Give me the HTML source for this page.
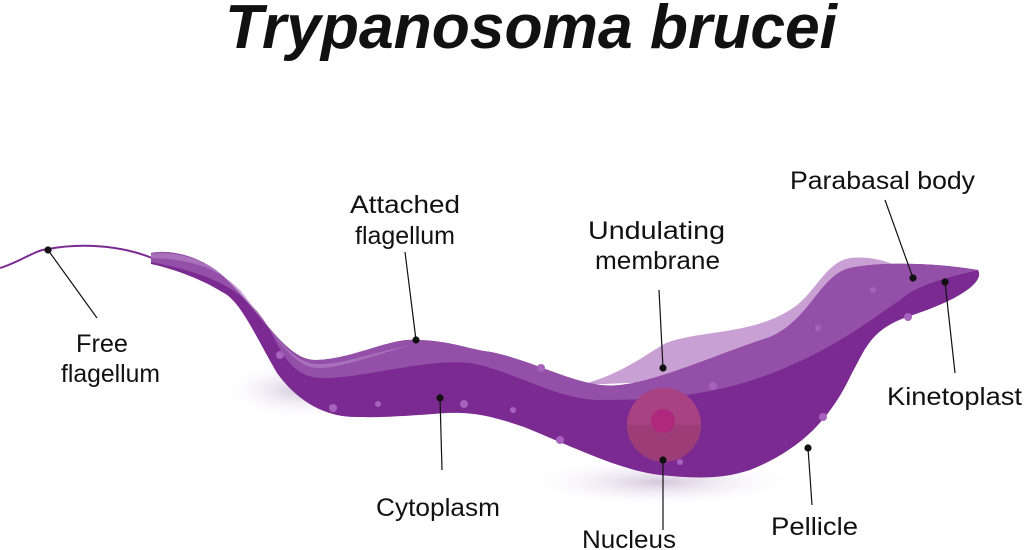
<!DOCTYPE html>
<html><head><style>
html,body{margin:0;padding:0;background:#fff;width:1024px;height:550px;overflow:hidden}
svg{display:block}
.t{font-family:"Liberation Sans",sans-serif;font-size:25px;fill:#111}
</style></head><body>
<svg width="1024" height="550" viewBox="0 0 1024 550">
<defs>
<radialGradient id="sh" cx="50%" cy="50%" r="50%"><stop offset="0" stop-color="#c9b8d4" stop-opacity=".8"/><stop offset="1" stop-color="#fff" stop-opacity="0"/></radialGradient>
</defs>
<text x="531" y="48" text-anchor="middle" font-family="Liberation Sans,sans-serif" font-weight="bold" font-style="italic" font-size="62" fill="#111" textLength="612" lengthAdjust="spacingAndGlyphs">Trypanosoma brucei</text>
<ellipse cx="300" cy="390" rx="80" ry="30" fill="url(#sh)"/>
<ellipse cx="660" cy="482" rx="140" ry="25" fill="url(#sh)"/>
<path d="M0,268 C20,262 35,250 48,249 C80,243 120,245 152,258" stroke="#7b2a92" stroke-width="2" fill="none"/>
<path d="M580,385 C620,375 645,355 666,343 C700,330 750,335 790,310 C815,295 825,262 850,258 C880,255 900,268 915,272 L905,300 C850,320 780,360 700,380 Z" fill="#c9a0d3"/>
<path d="M151,253 C175,248 205,260 222,275 C260,310 285,360 315,360 C350,360 390,338 414,340 C450,340 470,350 491,352 C530,360 565,380 600,385 C640,390 700,360 770,337 C810,320 820,275 850,268 C880,262 930,262 978,270 C985,282 960,300 907,317 C870,330 865,350 852,373 C830,420 800,450 750,470 C720,480 690,478 660,475 C620,470 580,450 524,427 C490,415 470,412 447,413 C420,415 380,418 359,417 C330,418 300,405 277,373 C255,335 240,300 222,292 C200,278 170,268 151,264 Z" fill="#7b2a92"/>
<path d="M151,253 C175,248 205,260 222,275 C260,310 285,360 315,360 C350,360 390,338 414,340 C450,340 470,350 491,352 C530,360 565,380 600,385 C640,390 700,360 770,337 C810,320 820,275 850,268 C880,262 930,262 978,270 C960,275 920,282 900,300 C870,320 840,345 780,370 C720,395 660,400 600,400 C560,400 520,375 480,365 C440,355 380,375 330,378 C295,380 285,360 270,330 C250,295 220,275 151,262 Z" fill="#9450a8"/>
<path d="M151,254 C175,250 205,260 222,275 C260,310 285,362 315,364 C340,366 380,350 414,345 C380,352 345,368 318,368 C290,368 265,320 240,290 C215,265 185,259 151,258 Z" fill="#b27fc3" opacity=".7"/>
<g fill="#a762bd">
<circle cx="280" cy="355" r="4"/><circle cx="333" cy="408" r="4"/><circle cx="378" cy="404" r="3"/><circle cx="464" cy="404" r="4"/><circle cx="513" cy="410" r="3"/><circle cx="541" cy="368" r="4"/><circle cx="560" cy="440" r="4"/><circle cx="713" cy="386" r="4"/><circle cx="823" cy="417" r="4"/><circle cx="908" cy="317" r="4"/><circle cx="873" cy="290" r="3"/><circle cx="818" cy="328" r="3"/><circle cx="680" cy="462" r="3"/>
</g>
<circle cx="664" cy="425" r="37" fill="#9c3d78"/>
<path d="M627,425 A37,37 0 0 1 701,425 Z" fill="#b0468a" opacity=".6"/>
<circle cx="663" cy="421" r="12" fill="#b0277e"/>
<g stroke="#111" stroke-width="1.2" fill="#111">
<line x1="48" y1="250" x2="97" y2="318"/><circle cx="48" cy="250" r="3"/>
<line x1="416" y1="340" x2="405" y2="252"/><circle cx="416" cy="340" r="3"/>
<line x1="663" y1="368" x2="659" y2="290"/><circle cx="663" cy="368" r="3"/>
<line x1="913" y1="278" x2="885" y2="200"/><circle cx="913" cy="278" r="3"/>
<line x1="945" y1="282" x2="955" y2="373"/><circle cx="945" cy="282" r="3"/>
<line x1="440" y1="398" x2="442" y2="470"/><circle cx="440" cy="398" r="3"/>
<line x1="663" y1="460" x2="663" y2="530"/><circle cx="663" cy="460" r="3"/>
<line x1="808" y1="448" x2="812" y2="505"/><circle cx="808" cy="448" r="3"/>
</g>
<text class="t" x="76" y="352" textLength="52" lengthAdjust="spacingAndGlyphs">Free</text>
<text class="t" x="61" y="382" textLength="99" lengthAdjust="spacingAndGlyphs">flagellum</text>
<text class="t" x="350" y="213" textLength="110" lengthAdjust="spacingAndGlyphs">Attached</text>
<text class="t" x="355" y="244" textLength="100" lengthAdjust="spacingAndGlyphs">flagellum</text>
<text class="t" x="588" y="239" textLength="137" lengthAdjust="spacingAndGlyphs">Undulating</text>
<text class="t" x="595" y="269" textLength="125" lengthAdjust="spacingAndGlyphs">membrane</text>
<text class="t" x="790" y="189" textLength="185" lengthAdjust="spacingAndGlyphs">Parabasal body</text>
<text class="t" x="887" y="405" textLength="135" lengthAdjust="spacingAndGlyphs">Kinetoplast</text>
<text class="t" x="376" y="516" textLength="124" lengthAdjust="spacingAndGlyphs">Cytoplasm</text>
<text class="t" x="582" y="548" textLength="94" lengthAdjust="spacingAndGlyphs">Nucleus</text>
<text class="t" x="771" y="535" textLength="87" lengthAdjust="spacingAndGlyphs">Pellicle</text>
</svg>
</body></html>
